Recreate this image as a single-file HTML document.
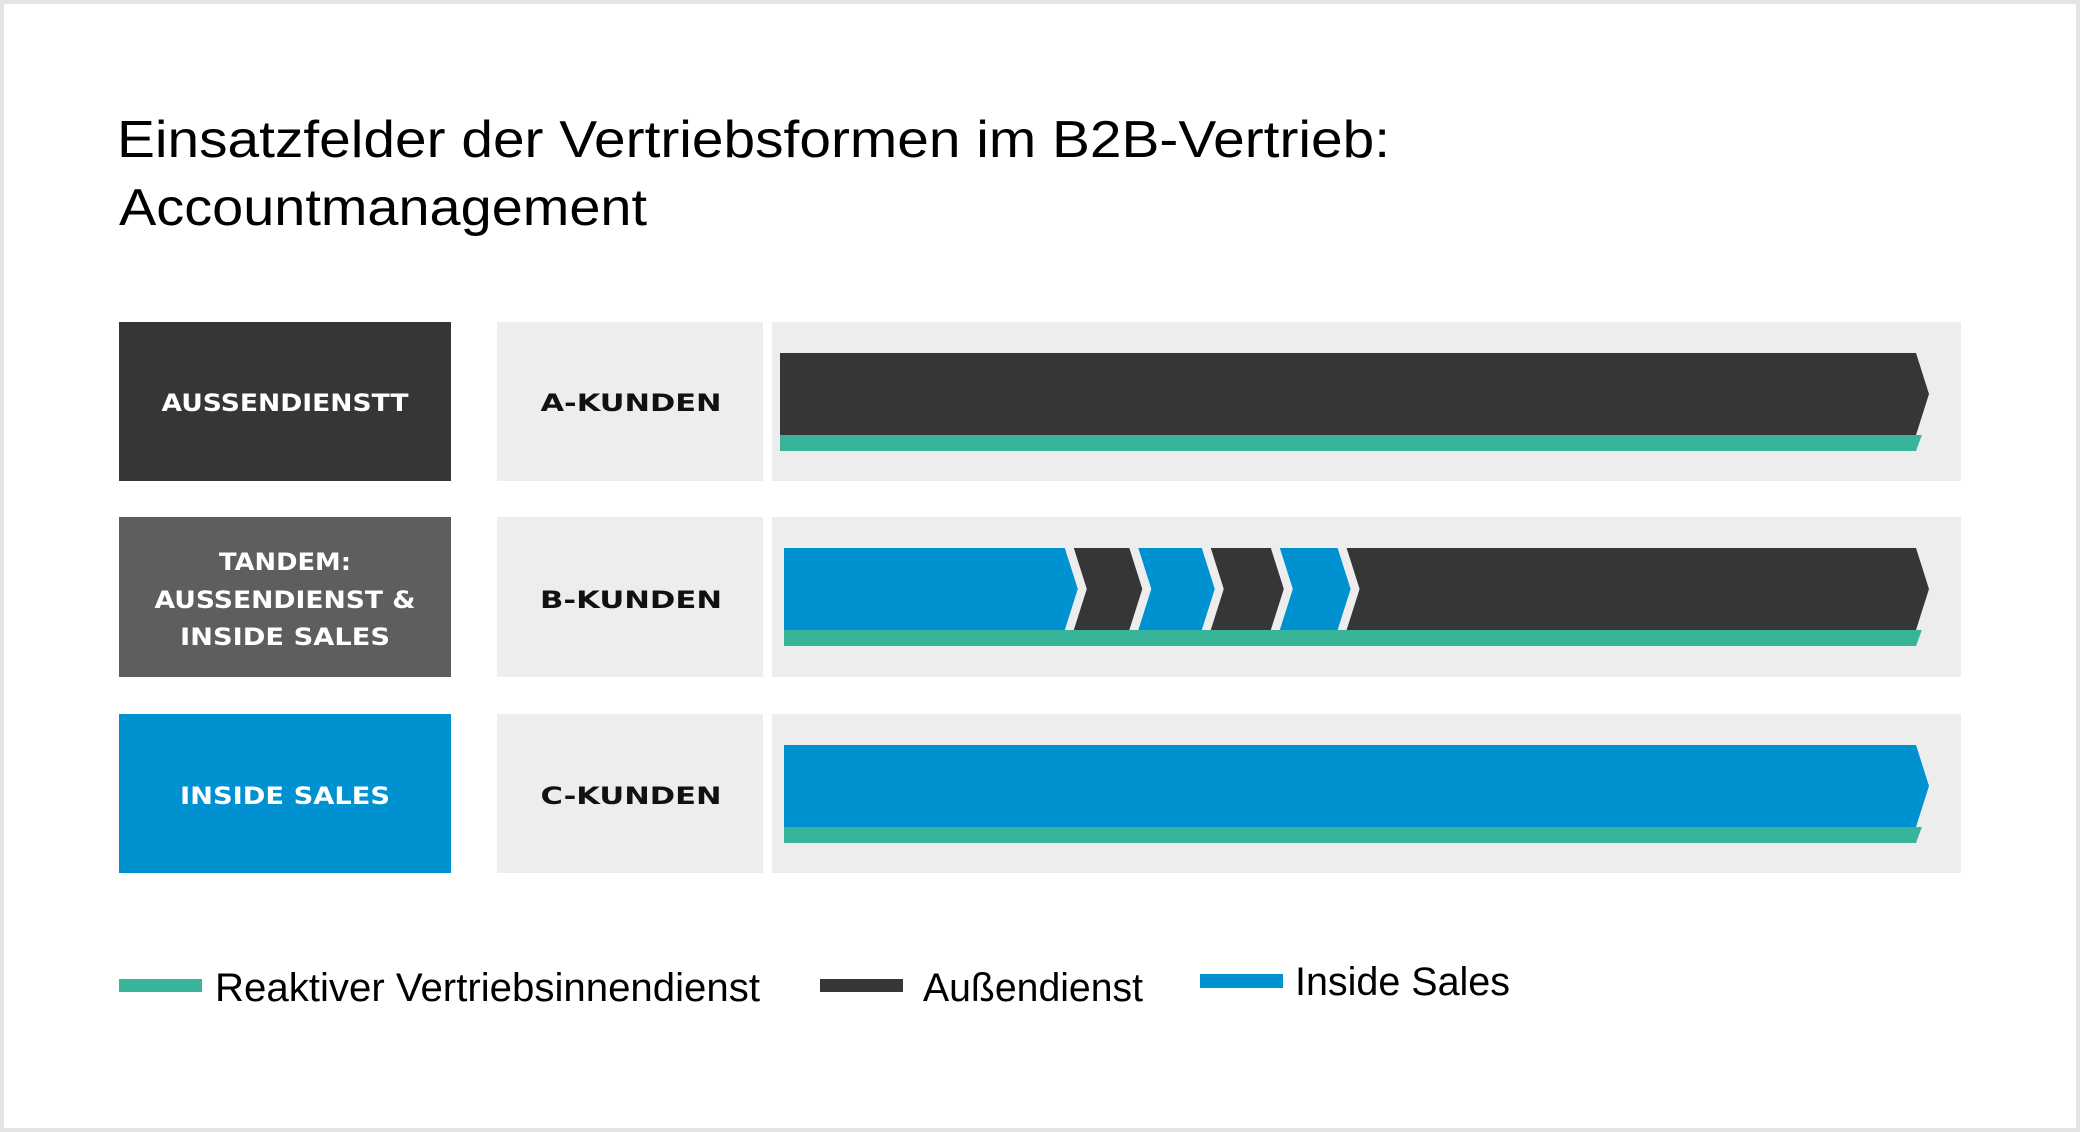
<!DOCTYPE html>
<html><head><meta charset="utf-8"><style>
html,body{margin:0;padding:0;background:#fff}
svg{display:block}
.lbl{font-family:"DejaVu Sans","Liberation Sans",sans-serif;font-weight:bold;font-size:24px;text-anchor:middle}
.ttl{font-family:"Liberation Sans","DejaVu Sans",sans-serif;font-size:52px;fill:#000}
.leg{font-family:"Liberation Sans","DejaVu Sans",sans-serif;font-size:40px;fill:#000}
</style></head><body>
<svg id="chart" width="2080" height="1132" viewBox="0 0 2080 1132" xmlns="http://www.w3.org/2000/svg">
<rect x="2" y="2" width="2076" height="1128" fill="#fff" stroke="#e4e4e4" stroke-width="4"/>
<text class="ttl" x="117" y="157" textLength="1273" lengthAdjust="spacingAndGlyphs">Einsatzfelder der Vertriebsformen im B2B-Vertrieb:</text>
<text class="ttl" x="119" y="225" textLength="528" lengthAdjust="spacingAndGlyphs">Accountmanagement</text>

<rect x="119" y="322" width="332" height="159" fill="#363636"/>
<text class="lbl" fill="#fff" x="285" y="411" textLength="247" lengthAdjust="spacingAndGlyphs">AUSSENDIENSTT</text>
<rect x="119" y="517" width="332" height="160" fill="#5e5e5e"/>
<text class="lbl" fill="#fff" x="285" y="570" textLength="132" lengthAdjust="spacingAndGlyphs">TANDEM:</text>
<text class="lbl" fill="#fff" x="285" y="608" textLength="261" lengthAdjust="spacingAndGlyphs">AUSSENDIENST &amp;</text>
<text class="lbl" fill="#fff" x="285" y="645" textLength="210" lengthAdjust="spacingAndGlyphs">INSIDE SALES</text>
<rect x="119" y="714" width="332" height="159" fill="#0091d0"/>
<text class="lbl" fill="#fff" x="285" y="804" textLength="210" lengthAdjust="spacingAndGlyphs">INSIDE SALES</text>

<rect x="497" y="322" width="266" height="159" fill="#ededed"/>
<text class="lbl" fill="#111" x="631" y="411" textLength="181" lengthAdjust="spacingAndGlyphs">A-KUNDEN</text>
<rect x="497" y="517" width="266" height="160" fill="#ededed"/>
<text class="lbl" fill="#111" x="631" y="608" textLength="182" lengthAdjust="spacingAndGlyphs">B-KUNDEN</text>
<rect x="497" y="714" width="266" height="159" fill="#ededed"/>
<text class="lbl" fill="#111" x="631" y="804" textLength="181" lengthAdjust="spacingAndGlyphs">C-KUNDEN</text>

<g id="bars"></g>

<rect x="119" y="979" width="83" height="13" fill="#38b49a"/>
<text class="leg" x="215" y="1001" textLength="545" lengthAdjust="spacingAndGlyphs">Reaktiver Vertriebsinnendienst</text>
<rect x="820" y="979" width="83" height="13" fill="#363636"/>
<text class="leg" x="923" y="1001" textLength="220" lengthAdjust="spacingAndGlyphs">Außendienst</text>
<rect x="1200" y="974" width="83" height="14" fill="#0091d0"/>
<text class="leg" x="1295" y="995" textLength="215" lengthAdjust="spacingAndGlyphs">Inside Sales</text>
</svg>
<script>
// rows and segment shares (percent of bar length)
const rows = ["A-Kunden", "B-Kunden", "C-Kunden"];
const segTypesA = ["dark"];
const segSharesA = [100];
const segTypesB = ["blue", "dark", "blue", "dark", "blue", "dark"];
const segSharesB = [25.6, 5.7, 6.4, 6.1, 5.9, 50.3];
const segTypesC = ["blue"];
const segSharesC = [100];
const greenShare = [100, 100, 100];

const colors = {dark: "#363636", blue: "#0091d0", green: "#38b49a"};
const panelX = 772, panelW = 1189;
const rowTop = [322, 517, 714], rowH = 159;
const barX0 = [780, 784, 784], barX1 = 1916;
const tip = 13, gap = 9;
const g = document.getElementById('bars');
const NS = "http://www.w3.org/2000/svg";
function xScale(r, p) { return barX0[r] + (barX1 - barX0[r]) * p / 100; }
const segData = [[segTypesA, segSharesA], [segTypesB, segSharesB], [segTypesC, segSharesC]];
rows.forEach((name, r) => {
  const panel = document.createElementNS(NS, 'rect');
  
  
  panel.setAttribute('x', panelX); panel.setAttribute('y', rowTop[r]);
  panel.setAttribute('width', panelW); panel.setAttribute('height', rowH + (r === 1 ? 1 : 0));
  panel.setAttribute('fill', '#ededed');
  g.appendChild(panel);
  const top = rowTop[r] + 31, bot = rowTop[r] + 113, gb = rowTop[r] + 129;
  const mid = (top + bot) / 2;
  // green base
  const gx1 = xScale(r, greenShare[r]);
  const gp = document.createElementNS(NS, 'polygon');
  
  
  gp.setAttribute('points', `${barX0[r]},${bot} ${gx1+tip*0.45},${bot} ${gx1},${gb} ${barX0[r]},${gb}`);
  gp.setAttribute('fill', colors.green);
  g.appendChild(gp);
  const [types, shares] = segData[r];
  let acc = 0;
  types.forEach((t, i) => {
    const s = xScale(r, acc);
    acc += shares[i];
    const e = xScale(r, acc) - (i < types.length - 1 ? gap : 0);
    const dh = (bot - top) / 2;
    const k = tip / dh;
    let pts;
    const left = i === 0 ? `${s},${bot} ${s},${top}` : `${s},${top} ${s+tip},${mid} ${s},${bot}`;
    pts = i === 0 ? `${s},${top} ${e},${top} ${e+tip},${mid} ${e},${bot} ${s},${bot}`
                  : `${s},${top} ${e},${top} ${e+tip},${mid} ${e},${bot} ${s},${bot} ${s+tip},${mid}`;
    const p = document.createElementNS(NS, 'polygon');
    
    
    p.setAttribute('points', pts);
    p.setAttribute('fill', colors[t]);
    g.appendChild(p);
  });
});
</script>
</body></html>
